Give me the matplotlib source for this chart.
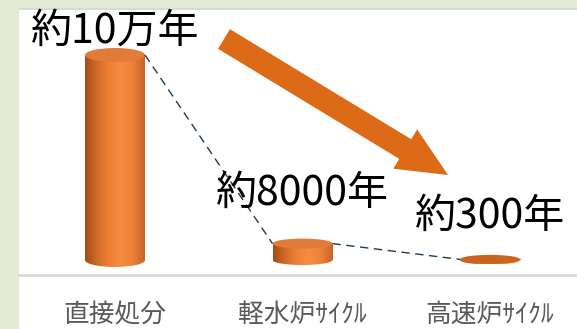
import matplotlib
matplotlib.use("Agg")
import matplotlib.pyplot as plt
import numpy as np
from matplotlib.patches import Ellipse, Rectangle, FancyArrow
from matplotlib.colors import LinearSegmentedColormap

plt.rcParams['font.family'] = ['Noto Sans CJK JP', 'DejaVu Sans']

categories = ['直接処分', '軽水炉ｻｲｸﾙ', '高速炉ｻｲｸﾙ']
years = [100000, 8000, 300]
year_labels = ['約10万年', '約8000年', '約300年']

W, H = 577, 329
PX_X = 187.5            # pixels per category
K = 100000 / 205        # years per pixel
label_offsets = [24, 50, 43]
cap_heights = [14, 10, 9]
cap_colors = ['#e27b3a', '#e27b3a', '#c9651f']

fig = plt.figure(figsize=(W / 100, H / 100), dpi=100)
fig.patch.set_facecolor('#e3ebd4')
fig.add_artist(Rectangle((19 / W, 0), 1, (H - 9) / H, transform=fig.transFigure,
                         facecolor='white', edgecolor='none', zorder=-2))
fig.add_artist(Rectangle((19 / W, (H - 10) / H), 1, 2 / H, transform=fig.transFigure,
                         facecolor='#d9d9d9', edgecolor='none', zorder=-1))

ax = fig.add_axes([0, 0, 1, 1])
ax.set_axis_off()
ax.patch.set_alpha(0)

body_cmap = LinearSegmentedColormap.from_list(
    'cyl', ['#a24c18', '#cf6a28', '#ef8035', '#f88d40', '#ec8238', '#c8642a'])
grad = np.linspace(0, 1, 256).reshape(1, -1)

x = np.arange(len(categories))
bars = ax.bar(x, years, width=60 / PX_X, color='none', zorder=2)

for i, bar in enumerate(bars):
    x0, w, h = bar.get_x(), bar.get_width(), bar.get_height()
    xc = x0 + w / 2
    eh = cap_heights[i] * K
    im = ax.imshow(grad, cmap=body_cmap, extent=(x0, x0 + w, 0, h),
                   aspect='auto', zorder=2)
    im.set_clip_path(bar)
    bottom = Ellipse((xc, 0), w, eh, facecolor='none', edgecolor='none')
    ax.add_patch(bottom)
    im2 = ax.imshow(grad, cmap=body_cmap, extent=(x0, x0 + w, -eh / 2, eh / 2),
                    aspect='auto', zorder=2)
    im2.set_clip_path(bottom)
    ax.add_patch(Ellipse((xc, h), w, eh, facecolor=cap_colors[i], edgecolor='none', zorder=3))
    ax.annotate(year_labels[i], (xc, h), xytext=(0, label_offsets[i]),
                textcoords='offset pixels', ha='center', va='center',
                fontsize=29.5, color='black', zorder=5)
    ax.text(x[i], (14 - 69) * K, categories[i], ha='center', va='center',
            fontsize=18.5, color='#595959')

# dashed trend between bar tops
w = bars[0].get_width()
for i in range(len(years) - 1):
    ax.plot([x[i] + w / 2, x[i + 1] - w / 2], [years[i], years[i + 1]],
            ls=(0, (6, 4)), color='#1f3b4d', lw=1, zorder=4)

ax.axhline((54 - 69) * K, xmin=19 / W, color='#d9d9d9', lw=2, zorder=1)

ax.set_xlim(-115 / PX_X, (W - 115) / PX_X)
ax.set_ylim(-69 * K, (H - 69) * K)

fig.add_artist(FancyArrow(2.24, 2.90, 2.24, -1.36, width=0.23, head_width=0.46,
                          head_length=0.50, length_includes_head=True,
                          transform=fig.dpi_scale_trans, color='#dd6a16', lw=0))

fig.savefig('out.png', dpi=100)
